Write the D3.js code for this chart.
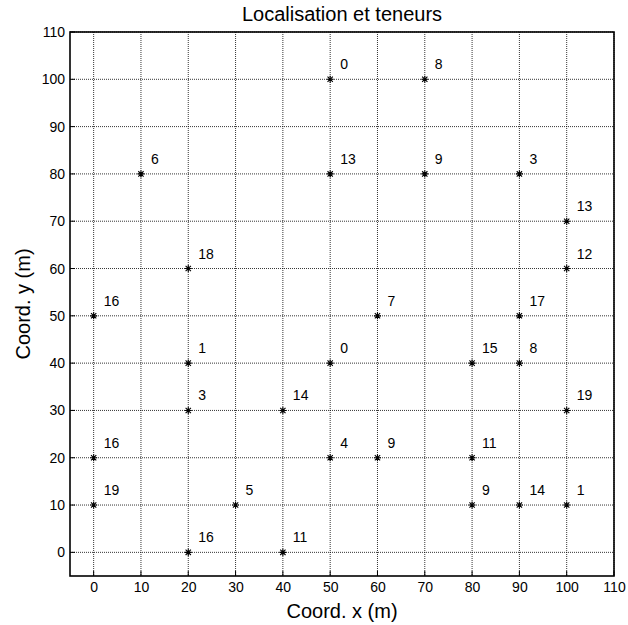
<!DOCTYPE html>
<html>
<head>
<meta charset="utf-8">
<script src="https://cdn.jsdelivr.net/npm/d3@7"></script>
<style>
  body { margin: 0; background: #fff; }
  text { font-family: "Liberation Sans", Arial, sans-serif; fill: #000; }
</style>
</head>
<body>
<div id="plot"></div>
<script>
// sample coordinates and grades
var xs = [50, 70, 10, 50, 70, 90, 100, 20, 100, 0, 60, 90, 20, 50, 80, 90, 20, 40, 100, 0, 50, 60, 80, 0, 30, 80, 90, 100, 20, 40];
var ys = [100, 100, 80, 80, 80, 80, 70, 60, 60, 50, 50, 50, 40, 40, 40, 40, 30, 30, 30, 20, 20, 20, 20, 10, 10, 10, 10, 10, 0, 0];
var grades = [0, 8, 6, 13, 9, 3, 13, 18, 12, 16, 7, 17, 1, 0, 15, 8, 3, 14, 19, 16, 4, 9, 11, 19, 5, 9, 14, 1, 16, 11];
var ticks = [0, 10, 20, 30, 40, 50, 60, 70, 80, 90, 100, 110];

function init() {
  var w = 628, h = 625;
  var pLeft = 70, pRight = 614, pTop = 32, pBottom = 576;

  var svg = d3.select("#plot").append("svg")
    .attr("width", w)
    .attr("height", h);

  var x = d3.scaleLinear().domain([-5, 110]).range([pLeft, pRight]);
  var y = d3.scaleLinear().domain([-5, 110]).range([pBottom, pTop]);

  // dotted grid
  var grid = svg.append("g");
  grid.selectAll("line.vx").data(ticks).enter().append("line")
    .attr("class", "vx")
    .attr("x1", function(d) { return x(d); })
    .attr("x2", function(d) { return x(d); })
    .attr("y1", pTop).attr("y2", pBottom)
    .attr("stroke", "#000").attr("stroke-width", 0.8)
    .attr("stroke-dasharray", "1,1");
  grid.selectAll("line.hy").data(ticks).enter().append("line")
    .attr("class", "hy")
    .attr("y1", function(d) { return y(d); })
    .attr("y2", function(d) { return y(d); })
    .attr("x1", pLeft).attr("x2", pRight)
    .attr("stroke", "#000").attr("stroke-width", 0.8)
    .attr("stroke-dasharray", "1,1");

  // axes
  var xAxis = d3.axisBottom(x).tickValues(ticks).tickSize(0).tickPadding(6);
  var yAxis = d3.axisLeft(y).tickValues(ticks).tickSize(0).tickPadding(5);

  var gx = svg.append("g").attr("transform", "translate(0," + pBottom + ")").call(xAxis);
  var gy = svg.append("g").attr("transform", "translate(" + pLeft + ",0)").call(yAxis);
  [gx, gy].forEach(function(g) {
    g.select(".domain").remove();
    g.selectAll("text").style("font-size", "14px").attr("font-family", "Liberation Sans, Arial, sans-serif");
  });

  // inward ticks
  svg.append("g").selectAll("line").data(ticks).enter().append("line")
    .attr("x1", function(d) { return x(d); }).attr("x2", function(d) { return x(d); })
    .attr("y1", pBottom).attr("y2", pBottom - 5)
    .attr("stroke", "#000");
  svg.append("g").selectAll("line").data(ticks).enter().append("line")
    .attr("y1", function(d) { return y(d); }).attr("y2", function(d) { return y(d); })
    .attr("x1", pLeft).attr("x2", pLeft + 5)
    .attr("stroke", "#000");

  // frame
  svg.append("rect")
    .attr("x", pLeft).attr("y", pTop)
    .attr("width", pRight - pLeft).attr("height", pBottom - pTop)
    .attr("fill", "none").attr("stroke", "#000").attr("stroke-width", 1.6);

  // points: matlab style '*' marker (plus + cross)
  var asterisk = {
    draw: function(ctx, size) {
      var r = Math.sqrt(size) / 2, d = r * 0.75;
      ctx.moveTo(-r, 0); ctx.lineTo(r, 0);
      ctx.moveTo(0, -r); ctx.lineTo(0, r);
      ctx.moveTo(-d, -d); ctx.lineTo(d, d);
      ctx.moveTo(-d, d); ctx.lineTo(d, -d);
    }
  };
  var idx = d3.range(xs.length);
  var star = d3.symbol().type(asterisk).size(50);
  svg.append("g").selectAll("path").data(idx).enter().append("path")
    .attr("d", star)
    .attr("transform", function(i) { return "translate(" + x(xs[i]) + "," + y(ys[i]) + ")"; })
    .attr("stroke", "#000").attr("stroke-width", 1.1).attr("fill", "none");

  // grade labels
  svg.append("g").selectAll("text").data(idx).enter().append("text")
    .attr("x", function(i) { return x(xs[i]) + 10; })
    .attr("y", function(i) { return y(ys[i]) - 10; })
    .style("font-size", "14px")
    .text(function(i) { return grades[i]; });

  // title and axis labels
  svg.append("text")
    .attr("text-anchor", "middle")
    .attr("x", (pLeft + pRight) / 2).attr("y", 21)
    .style("font-size", "20px")
    .text("Localisation et teneurs");

  svg.append("text")
    .attr("text-anchor", "middle")
    .attr("x", (pLeft + pRight) / 2).attr("y", 618)
    .style("font-size", "20px")
    .text("Coord. x (m)");

  svg.append("text")
    .attr("text-anchor", "middle")
    .attr("transform", "rotate(-90)")
    .attr("x", -(pTop + pBottom) / 2).attr("y", 30)
    .style("font-size", "20px")
    .text("Coord. y (m)");
}

window.onload = init;
</script>
</body>
</html>
